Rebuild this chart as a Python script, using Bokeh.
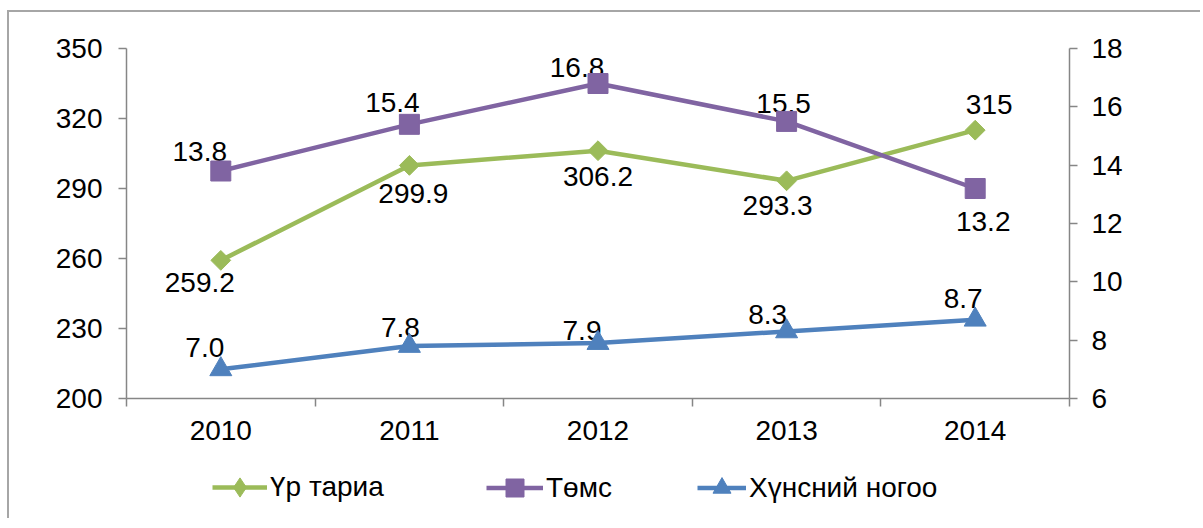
import math
from bokeh.plotting import figure
from bokeh.layouts import column
from bokeh.models import (Range1d, LinearAxis, FixedTicker, Legend, LegendItem,
                          ColumnDataSource)
from bokeh.core.properties import value
from bokeh.embed import file_html
from bokeh.resources import INLINE

# ---- data ----
years = ["2010", "2011", "2012", "2013", "2014"]
grain = [259.2, 299.9, 306.2, 293.3, 315]      # Үр тариа (left axis)
potato = [13.8, 15.4, 16.8, 15.5, 13.2]        # Төмс (right axis)
veg = [7.0, 7.8, 7.9, 8.3, 8.7]                # Хүнсний ногоо (right axis)
series_names = ["Үр тариа", "Төмс", "Хүнсний ногоо"]
grain_labels = ["259.2", "299.9", "306.2", "293.3", "315"]
potato_labels = ["13.8", "15.4", "16.8", "15.5", "13.2"]
veg_labels = ["7.0", "7.8", "7.9", "8.3", "8.7"]
left_ticks = [200, 230, 260, 290, 320, 350]
right_ticks = [6, 8, 10, 12, 14, 16, 18]

# ---- styling ----
FONT = "Liberation Sans"
FS = "28px"
GREEN = "#9BBB59"
PURPLE = "#8064A2"
BLUE = "#4F81BD"
AXIS = "#868686"
BORDER = "2px solid #A6A6A6"
LW = 4.5
W = 1193

xs = [i + 0.5 for i in range(len(years))]

p = figure(width=W, height=448, output_backend="svg", toolbar_location=None,
           x_range=Range1d(0, len(years)), y_range=Range1d(200, 350),
           min_border_left=117, min_border_right=W + 9 - 1069, min_border_top=36,
           min_border_bottom=62, x_axis_type=None, y_axis_type=None)
p.outline_line_color = None
p.xgrid.visible = False
p.ygrid.visible = False
p.extra_y_ranges = {"right": Range1d(6, 18)}
p.styles = {"border-left": BORDER, "border-top": BORDER}

def style_axis(ax):
    ax.axis_line_color = AXIS
    ax.axis_line_width = 1.5
    ax.major_tick_line_color = AXIS
    ax.major_tick_line_width = 1.5
    ax.minor_tick_line_color = AXIS
    ax.minor_tick_line_width = 1.5
    ax.major_tick_in = 0
    ax.major_tick_out = 8
    ax.minor_tick_in = 0
    ax.minor_tick_out = 0
    ax.major_label_text_font = FONT
    ax.major_label_text_font_size = FS
    ax.major_label_text_color = "black"

yl = LinearAxis(ticker=FixedTicker(ticks=left_ticks))
style_axis(yl)
yl.major_label_standoff = 16
p.add_layout(yl, "left")

yr = LinearAxis(y_range_name="right", ticker=FixedTicker(ticks=right_ticks))
style_axis(yr)
yr.major_label_standoff = 14
p.add_layout(yr, "right")

xa = LinearAxis(ticker=FixedTicker(ticks=xs, minor_ticks=list(range(len(years) + 1))))
style_axis(xa)
xa.major_tick_out = 0
xa.minor_tick_out = 8
xa.major_label_overrides = {x: y for x, y in zip(xs, years)}
xa.major_label_standoff = 14
p.add_layout(xa, "below")

# data labels (offsets are style: screen pixels); drawn first so markers sit on top
g_dx = [-21, 4, 0, -9, 14]
g_dy = [22, 28, 26, 25, -26]
p_dx = [-21, -17, -21, -3, 8]
p_dy = [-20, -22, -16, -18, 33]
v_dx = [-16, -9, -16, -19, -12]
v_dy = [-22, -19, -13, -17, -21]

def labels(ys, txt, dx, dy, rng="default"):
    src = ColumnDataSource(dict(x=xs, y=ys, t=txt, dx=dx, dy=dy))
    p.text(x="x", y="y", text="t", x_offset="dx", y_offset="dy", source=src,
           text_align="center", text_baseline="middle",
           text_font=value(FONT), text_font_size=FS, text_color="black",
           y_range_name=rng)

labels(grain, grain_labels, g_dx, g_dy)
labels(potato, potato_labels, p_dx, p_dy, "right")
labels(veg, veg_labels, v_dx, v_dy, "right")

p.line(xs, grain, line_color=GREEN, line_width=LW)
p.scatter(xs, grain, marker="square", angle=math.pi / 4, size=14,
          fill_color=GREEN, line_color=GREEN)
p.line(xs, potato, line_color=PURPLE, line_width=LW, y_range_name="right")
p.scatter(xs, potato, marker="square", size=20, fill_color=PURPLE,
          line_color=PURPLE, y_range_name="right")
p.line(xs, veg, line_color=BLUE, line_width=LW, y_range_name="right")
p.scatter(xs, veg, marker="triangle", size=22, fill_color=BLUE,
          line_color=BLUE, y_range_name="right")

# ---- legend strip below the chart (its series lie outside its view range) ----
lg = figure(width=W, height=60, output_backend="svg", toolbar_location=None,
            x_range=Range1d(0, 1), y_range=Range1d(-2, -1),
            min_border_left=0, min_border_right=0, min_border_top=0,
            min_border_bottom=0, x_axis_type=None, y_axis_type=None)
lg.outline_line_color = None
lg.xgrid.visible = False
lg.ygrid.visible = False
lg.styles = {"border-left": BORDER}

leg_specs = [
    # name, values, colour, marker, marker size, glyph w, glyph h, location
    (series_names[0], grain, GREEN, "diamond", 19, 55, 48, (86, 7)),
    (series_names[1], potato, PURPLE, "square", 18, 57, 45, (360, 8)),
    (series_names[2], veg, BLUE, "triangle", 18, 49, 45, (571, 8)),
]
for name, vals, col, mk, sz, gw, gh, loc in leg_specs:
    lr = lg.line(xs, vals, line_color=col, line_width=LW)
    mr = lg.scatter(xs, vals, marker=mk, size=sz,
                    fill_color=col, line_color=col)
    leg = Legend(items=[LegendItem(label=name, renderers=[lr, mr])],
                 location=loc, orientation="horizontal")
    leg.border_line_color = None
    leg.background_fill_alpha = 0
    leg.label_text_font = FONT
    leg.label_text_font_size = FS
    leg.label_text_color = "black"
    leg.glyph_width = gw
    leg.glyph_height = gh
    leg.label_standoff = 3
    leg.padding = 0
    leg.margin = 0
    lg.add_layout(leg, "center")

layout = column(p, lg, spacing=0)
layout.styles = {"margin-left": "7px", "margin-top": "10px"}

open("out.html", "w").write(file_html(layout, INLINE))
